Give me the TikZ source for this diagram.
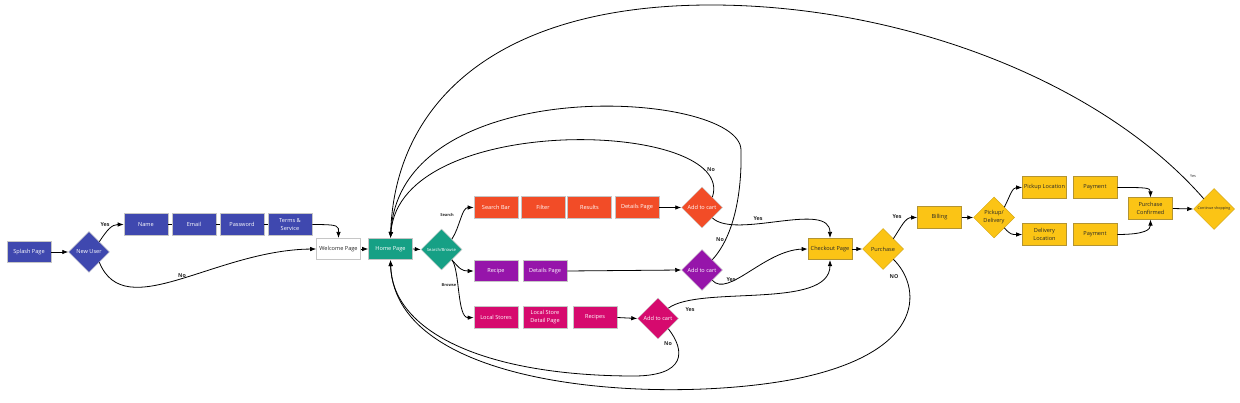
\documentclass[tikz,border=0pt]{standalone}
\usepackage{fontspec}
\setmainfont{Open Sans}
\usetikzlibrary{shapes.geometric,arrows.meta}
\definecolor{blueC}{RGB}{63,72,175}
\definecolor{tealC}{RGB}{22,160,133}
\definecolor{redC}{RGB}{242,76,39}
\definecolor{purpC}{RGB}{150,21,170}
\definecolor{magC}{RGB}{214,10,110}
\definecolor{yelC}{RGB}{251,196,21}
\definecolor{txtC}{RGB}{40,40,40}
\newcommand\fs{\fontsize{5.6}{8}\selectfont}
\begin{document}
\begin{tikzpicture}[x=1pt,y=-1pt,
  box/.style={draw=gray!45, line width=0.6pt, minimum width=44, minimum height=21.5, inner sep=0.3pt, font=\fs, text=white, align=center},
  ybox/.style={box, fill=yelC, draw=yelC!80!black!70!gray, text=txtC},
  dia/.style={diamond, aspect=1, minimum width=41, minimum height=41, inner sep=0pt, draw=gray!40, line width=0.5pt, font=\fs, text=white, align=center},
  ydia/.style={dia, fill=yelC, draw=yelC!85!black, text=txtC},
  ln/.style={line width=0.8pt, draw=black},
  arr/.style={ln, -{Latex[length=6pt,width=4.5pt]}},
  lbl/.style={font=\fontsize{5.4}{6}\selectfont\bfseries, text=txtC, inner sep=0pt},
  slbl/.style={font=\fontsize{4}{5}\selectfont\bfseries, text=txtC, inner sep=0pt},
  tlbl/.style={font=\fontsize{3.8}{5}\selectfont, text=txtC, inner sep=0pt}]
\useasboundingbox (0,0) rectangle (1240,403);
% nodes
\node[box,fill=blueC] (splash) at (29,252) {Splash Page};
\node[dia,fill=blueC] (newuser) at (89,252) {New User};
\node[box,fill=blueC] (name) at (146,224.5) {Name};
\node[box,fill=blueC] (email) at (194,224.5) {Email};
\node[box,fill=blueC] (password) at (242,224.5) {Password};
\node[box,fill=blueC] (terms) at (290,224.5) {Terms \&\\Service};
\node[box,fill=white,text=txtC] (welcome) at (338.5,249) {Welcome Page};
\node[box,fill=tealC] (home) at (390.5,249) {Home Page};
\node[dia,fill=tealC,font=\fontsize{4.2}{5}\selectfont] (sb) at (441.5,249.5) {Search/Browse};
\node[box,fill=redC] (sbar) at (496,207.5) {Search Bar};
\node[box,fill=redC] (filter) at (543,207.5) {Filter};
\node[box,fill=redC] (results) at (589.5,207.5) {Results};
\node[box,fill=redC] (sdet) at (637,207.5) {Details Page};
\node[dia,fill=redC] (sadd) at (702,207.5) {Add to cart};
\node[box,fill=purpC] (recipe) at (496,271) {Recipe};
\node[box,fill=purpC] (pdet) at (545,271) {Details Page};
\node[dia,fill=purpC] (padd) at (702,270) {Add to cart};
\node[box,fill=magC] (lstores) at (496,317.5) {Local Stores};
\node[box,fill=magC] (ldet) at (545,317.5) {Local Store\\Detail Page};
\node[box,fill=magC] (lrec) at (595,317.5) {Recipes};
\node[dia,fill=magC] (madd) at (658,318.5) {Add to cart};
\node[ybox] (checkout) at (830,249) {Checkout Page};
\node[ydia] (purchase) at (883,249) {Purchase};
\node[ybox] (billing) at (939.5,217.5) {Billing};
\node[ydia] (pd) at (994,217.5) {Pickup/\\Delivery};
\node[ybox] (ploc) at (1044.5,187.5) {Pickup Location};
\node[ybox] (pay1) at (1095,187.5) {Payment};
\node[ybox] (dloc) at (1044.5,234.5) {Delivery\\Location};
\node[ybox] (pay2) at (1095,234.5) {Payment};
\node[ybox] (pconf) at (1150.5,208.5) {Purchase\\Confirmed};
\node[ydia,font=\fontsize{3.7}{4.5}\selectfont] (cont) at (1214,209) {Continue shopping};
% connectors
\draw[arr] (splash.east) -- (newuser.west);
\draw[arr] (newuser.45) .. controls +(8,-12) and +(-12,0) .. (name.west);
\draw[ln] (name.east) -- (email.west);
\draw[ln] (email.east) -- (password.west);
\draw[ln] (password.east) -- (terms.west);
\draw[arr] (terms.east) .. controls +(28,0) and +(0,-12) .. (welcome.north);
\draw[arr] (newuser.-45) .. controls (125,325) and (215,250) .. (welcome.west);
\draw[arr] (welcome.east) -- (home.west);
\draw[arr] (home.east) -- (sb.west);
\draw[arr] (sb.45) .. controls +(8,-12) and +(-12,0) .. (sbar.west);
\draw[arr] (sb.-45) .. controls +(8,9) and +(-12,0) .. (recipe.west);
\draw[arr] (sb.-45) .. controls (460,270) and (457,318) .. (lstores.west);
\draw[arr] (sdet.east) -- (sadd.west);
\draw[arr] (pdet.east) -- (padd.west);
\draw[arr] (lrec.east) -- (madd.west);
\draw[arr] (sadd.-45) .. controls (735,240) and (830,200) .. (checkout.north);
\draw[arr] (padd.-45) .. controls (728,298) and (765,250) .. (checkout.west);
\draw[arr] (madd.45) .. controls (700,285) and (830,310) .. (checkout.south);
\draw[arr] (sadd.45) .. controls (738,120) and (400,110) .. (home.north);
\draw[arr] (padd.45) .. controls (735,235) and (742,190) .. (741,150) .. controls (740,90) and (400,70) .. (home.north);
\draw[arr] (cont.135) .. controls (1100,80) and (900,5) .. (711,5) .. controls (500,5) and (395,100) .. (home.north);
\draw[arr] (madd.-45) .. controls (685,350) and (688,377) .. (630,376) .. controls (480,375) and (392,330) .. (home.south);
\draw[arr] (purchase.-45) .. controls (920,285) and (930,350) .. (800,378) .. controls (670,405) and (395,392) .. (home.south);
\draw[arr] (checkout.east) -- (purchase.west);
\draw[arr] (purchase.45) .. controls +(8,-12) and +(-12,0) .. (billing.west);
\draw[arr] (billing.east) -- (pd.west);
\draw[arr] (pd.45) .. controls +(6,-12) and +(-10,0) .. (ploc.west);
\draw[arr] (pd.-45) .. controls +(6,7) and +(-10,0) .. (dloc.west);
\draw[arr] (pay1.east) .. controls +(28,0) and +(0,-10) .. (pconf.north);
\draw[arr] (pay2.east) .. controls +(28,0) and +(0,10) .. (pconf.south);
\draw[arr] (pconf.east) -- (cont.west);
% labels
\node[lbl] (t1) at (105,225) {Yes};
\node[lbl] (t2) at (182,276) {No};
\node[slbl] (t3) at (447,215) {Search};
\node[slbl] (t4) at (449,285) {Browse};
\node[lbl] (t5) at (711,170) {No};
\node[lbl] (t6) at (758,219) {Yes};
\node[lbl] (t7) at (720,240) {No};
\node[lbl] (t8) at (731,280) {Yes};
\node[lbl] (t9) at (690,310) {Yes};
\node[lbl] (t10) at (668,344) {No};
\node[lbl] (t11) at (897,217) {Yes};
\node[lbl] (t12) at (894,277) {NO};
\node[tlbl] (t13) at (1193,176) {Yes};
\end{tikzpicture}
\end{document}
